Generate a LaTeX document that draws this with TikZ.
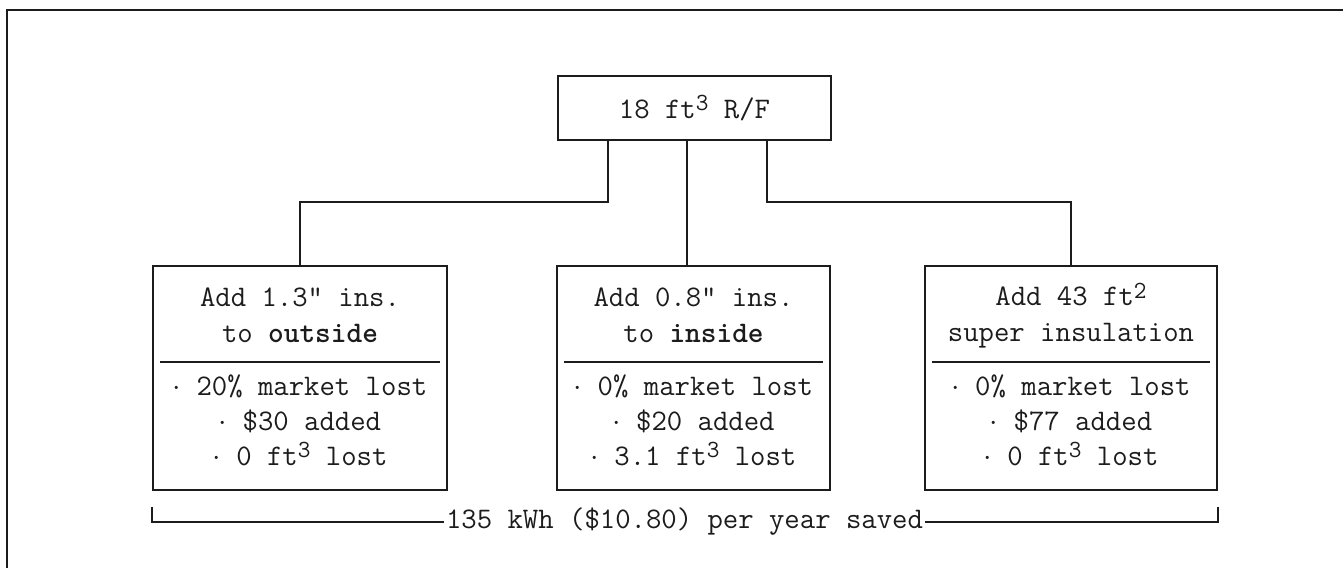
\documentclass[tikz,border=0pt]{standalone}
\usepackage{tikz}
\usetikzlibrary{positioning,calc}
\definecolor{scanInk}{HTML}{1C1C1C}
\newcommand{\upnum}[1]{\raisebox{0.6ex}{\fontsize{14}{14}\selectfont #1}}

\begin{document}
\begin{tikzpicture}[x=0.02cm, y=-0.02cm, line width=0.9pt, draw=scanInk, text=scanInk,
    font=\ttfamily\fontsize{17}{20}\selectfont,
    rootbox/.style={draw, inner sep=0pt, minimum width=5.46cm, minimum height=1.28cm},
    optbox/.style={draw, inner sep=0pt, minimum height=4.48cm},
    boxtext/.style={align=center, inner sep=0pt},
    frameline/.style={line width=1.6pt}]
  \useasboundingbox (0,0) rectangle (1343,568);
  % Scanned page edge: only the top and left borders show.
  \draw[frameline] (7,568) -- (7,10) -- (1343,10);

  % Refrigerator and the three ways of adding insulation.
  \node[rootbox] (root) at (694.5,108) {18 ft\upnum{3} R/F};
  \node[optbox, minimum width=5.88cm] (outside) at (300,378) {};
  \node[optbox, minimum width=5.46cm] (inside) at (693.5,378) {};
  \node[optbox, minimum width=5.84cm] (superins) at (1071,378) {};

  \node[boxtext] (outsideHead) at ($(outside.north)+(0,50)$) {Add 1.3" ins.\\to \textbf{outside}};
  \node[boxtext] (outsideBody) at ($(outside.north)+(0,155)$) {$\cdot$ 20\% market lost\\$\cdot$ \$30 added\\$\cdot$ 0 ft\upnum{3} lost};
  \node[boxtext] (insideHead) at ($(inside.north)+(0,50)$) {Add 0.8" ins.\\to \textbf{inside}};
  \node[boxtext] (insideBody) at ($(inside.north)+(0,155)$) {$\cdot$ 0\% market lost\\$\cdot$ \$20 added\\$\cdot$ 3.1 ft\upnum{3} lost};
  \node[boxtext] (superinsHead) at ($(superins.north)+(0,50)$) {Add 43 ft\upnum{2}\\super insulation};
  \node[boxtext] (superinsBody) at ($(superins.north)+(0,155)$) {$\cdot$ 0\% market lost\\$\cdot$ \$77 added\\$\cdot$ 0 ft\upnum{3} lost};

  \foreach \b in {outside, inside, superins} {
    \draw ($(\b.north west)+(8,97)$) -- ($(\b.north east)+(-8,97)$);
  }

  % Branches from the refrigerator down to each option.
  \coordinate (rootL) at ($(root.south)+(-86.5,0)$);
  \coordinate (rootM) at ($(root.south)+(-7.5,0)$);
  \coordinate (rootR) at ($(root.south)+(72.5,0)$);
  \draw (rootL) |- ($(outside.north)+(0,-63)$) -- (outside.north);
  \draw (rootM) -- (rootM |- inside.north);
  \draw (rootR) |- ($(superins.north)+(0,-63)$) -- (superins.north);

  % Savings bracket under all three options.
  \node[boxtext, inner xsep=1pt] (saved) at (684.5,522) {135 kWh (\$10.80) per year saved};
  \coordinate (bracketL) at ($(outside.south west)+(0,16)$);
  \coordinate (bracketR) at ($(superins.south east)+(0,16)$);
  \draw (bracketL) |- (saved.west);
  \draw (bracketR) |- (saved.east);
\end{tikzpicture}
\end{document}
